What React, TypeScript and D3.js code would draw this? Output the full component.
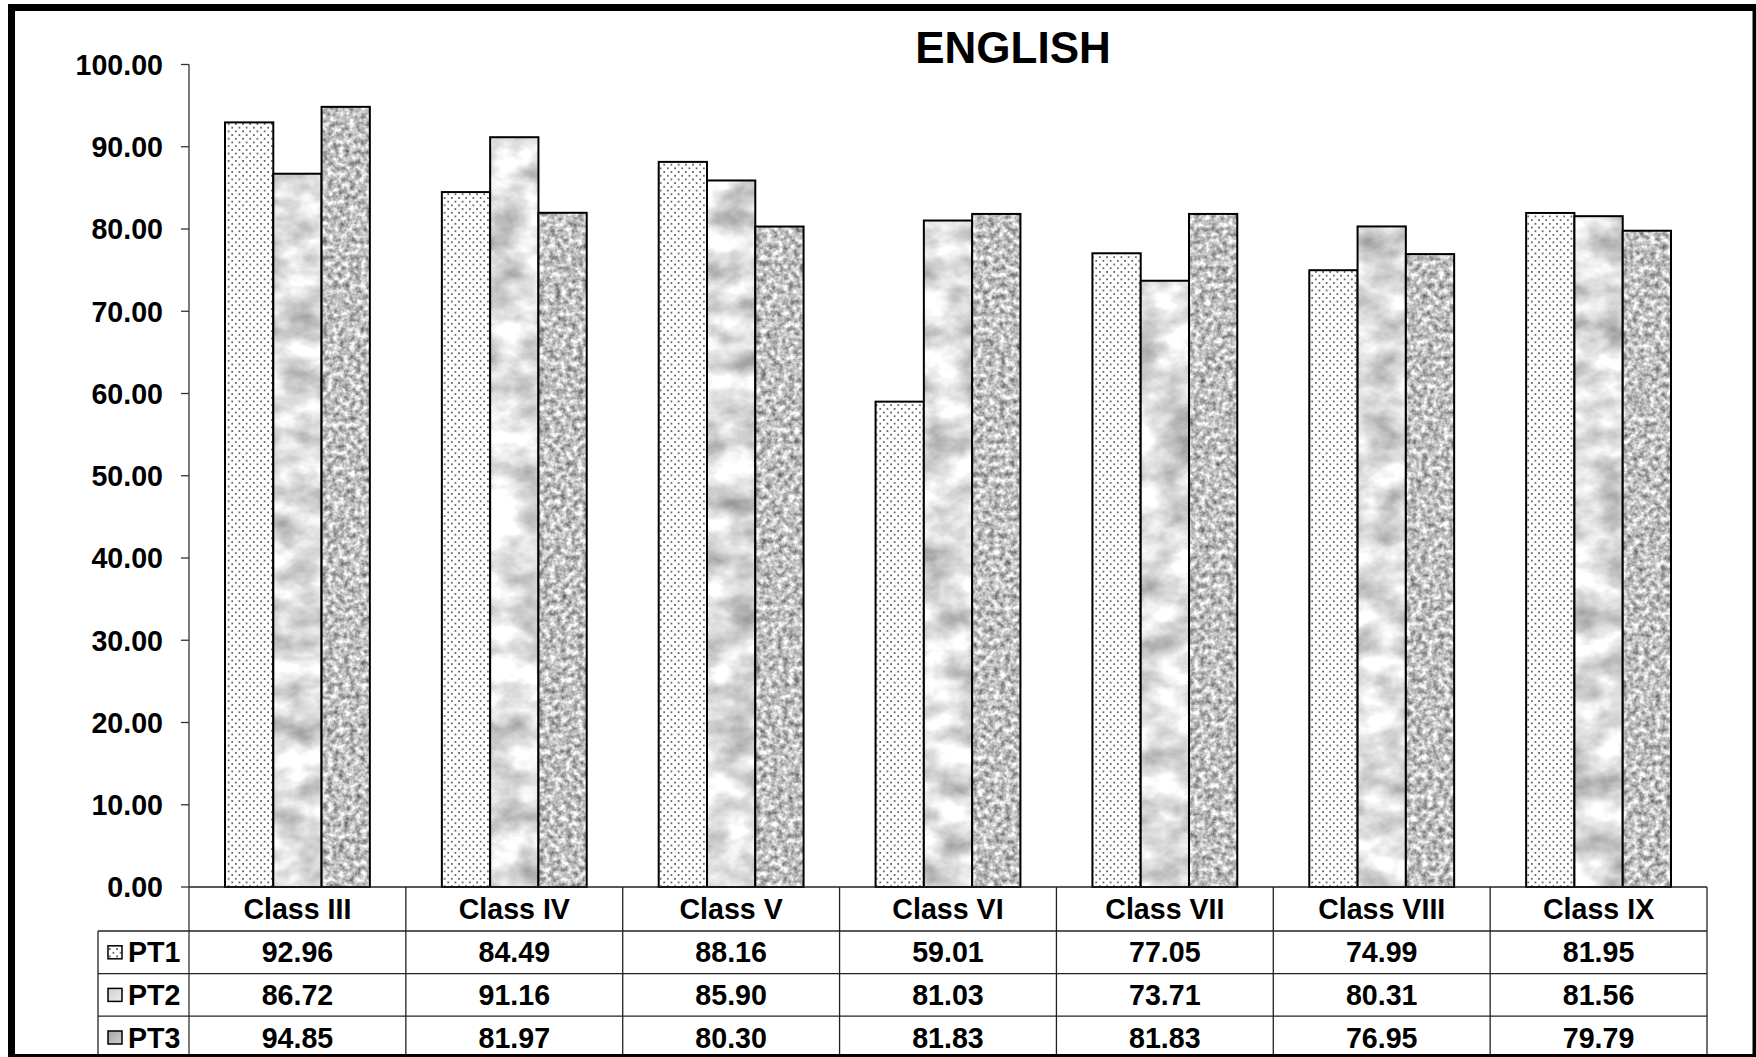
import React from "react";
import * as d3 from "d3";

const categories = ["Class III", "Class IV", "Class V", "Class VI", "Class VII", "Class VIII", "Class IX"];
const seriesNames = ["PT1", "PT2", "PT3"];
const pt1 = [92.96, 84.49, 88.16, 59.01, 77.05, 74.99, 81.95];
const pt2 = [86.72, 91.16, 85.9, 81.03, 73.71, 80.31, 81.56];
const pt3 = [94.85, 81.97, 80.3, 81.83, 81.83, 76.95, 79.79];
const yTicks = [0, 10, 20, 30, 40, 50, 60, 70, 80, 90, 100];
const title = "ENGLISH";

const W = 1756;
const H = 1057;
const FONT = "'Liberation Sans', Arial, sans-serif";
const FS = 28.6;

export default function App() {
  const series = [pt1, pt2, pt3];
  const plotLeft = 189;
  const plotRight = 1707;
  const y0 = 887;
  const y100 = 64.5;
  const x = d3.scaleBand<string>().domain(categories).range([plotLeft, plotRight]).padding(0);
  const y = d3.scaleLinear().domain([0, 100]).range([y0, y100]);
  const bw = x.bandwidth();
  const groupW = bw * 0.668;
  const inner = d3
    .scaleBand<string>()
    .domain(seriesNames)
    .range([(bw - groupW) / 2, (bw + groupW) / 2])
    .padding(0);

  const fills = ["url(#dots)", "#fff", "#fff"];
  const filters = [undefined, "url(#marble)", "url(#granite)"];
  const keyFills = ["url(#dots)", "url(#keyMarble)", "url(#keyGranite)"];

  const rowTop = 931;
  const rowH = 42.6;
  const tableLeft = 98;
  const tableBottom = 1060;

  return (
    <svg
      width={W}
      height={H}
      style={{ position: "absolute", left: 0, top: 0, background: "#fff" }}
      fontFamily={FONT}
    >
      <defs>
        <pattern id="dots" patternUnits="userSpaceOnUse" width="7.2" height="7.4">
          <rect width="7.2" height="7.4" fill="#fff" />
          <rect x="1" y="1" width="1.7" height="1.7" fill="#555" />
          <rect x="4.6" y="4.7" width="1.7" height="1.7" fill="#555" />
        </pattern>
        <linearGradient id="keyMarble" x1="0" y1="0" x2="1" y2="1">
          <stop offset="0" stopColor="#cfcfcf" />
          <stop offset="1" stopColor="#eeeeee" />
        </linearGradient>
        <linearGradient id="keyGranite" x1="0" y1="0" x2="1" y2="1">
          <stop offset="0" stopColor="#a5a5a5" />
          <stop offset="1" stopColor="#d0d0d0" />
        </linearGradient>
        <filter id="marble" x="0" y="0" width="1" height="1" colorInterpolationFilters="sRGB">
          <feTurbulence type="fractalNoise" baseFrequency="0.025 0.035" numOctaves="4" seed="11" />
          <feColorMatrix
            type="matrix"
            values="-0.65 0 0 0 1.2  -0.65 0 0 0 1.2  -0.65 0 0 0 1.2  0 0 0 0 1"
          />
          <feComposite in2="SourceGraphic" operator="in" />
        </filter>
        <filter id="granite" x="0" y="0" width="1" height="1" colorInterpolationFilters="sRGB">
          <feTurbulence type="fractalNoise" baseFrequency="0.18" numOctaves="3" seed="5" />
          <feColorMatrix
            type="matrix"
            values="0.95 0 0 0 0.28  0.95 0 0 0 0.28  0.95 0 0 0 0.28  0 0 0 0 1"
          />
          <feGaussianBlur stdDeviation="0.6" />
          <feComposite in2="SourceGraphic" operator="in" />
        </filter>
      </defs>

      <rect x={0} y={0} width={W} height={H} fill="#fff" />

      {/* title */}
      <text x={1013} y={63} textAnchor="middle" fontSize={44} fontWeight="bold" fill="#000">
        {title}
      </text>

      {/* y axis */}
      <line x1={plotLeft} x2={plotLeft} y1={y(100)} y2={tableBottom} stroke="#333" strokeWidth={1.3} />
      {yTicks.map((t) => (
        <g key={t}>
          <line x1={plotLeft - 8} x2={plotLeft} y1={y(t)} y2={y(t)} stroke="#333" strokeWidth={1.3} />
          <text
            x={163}
            y={y(t)}
            dy="0.36em"
            textAnchor="end"
            fontSize={FS}
            fontWeight="bold"
            fill="#000"
          >
            {t.toFixed(2)}
          </text>
        </g>
      ))}

      {/* bars */}
      {categories.map((c, i) => (
        <g key={c}>
          {seriesNames.map((s, k) => {
            const v = series[k][i];
            const bx = x(c)! + inner(s)!;
            const bwid = inner.bandwidth();
            return (
              <g key={s}>
                <rect x={bx} y={y(v)} width={bwid} height={y(0) - y(v)} fill={fills[k]} filter={filters[k]} />
                <rect
                  x={bx}
                  y={y(v)}
                  width={bwid}
                  height={y(0) - y(v)}
                  fill="none"
                  stroke="#000"
                  strokeWidth={2}
                />
              </g>
            );
          })}
        </g>
      ))}

      {/* table */}
      <line x1={plotLeft} x2={plotRight} y1={y0} y2={y0} stroke="#222" strokeWidth={1.5} />
      {[0, 1, 2].map((r) => (
        <line
          key={r}
          x1={tableLeft}
          x2={plotRight}
          y1={rowTop + r * rowH}
          y2={rowTop + r * rowH}
          stroke="#222"
          strokeWidth={1.3}
        />
      ))}
      <line x1={tableLeft} x2={tableLeft} y1={rowTop} y2={tableBottom} stroke="#222" strokeWidth={1.3} />
      {categories.map((c) => (
        <line
          key={c}
          x1={x(c)! + bw}
          x2={x(c)! + bw}
          y1={y0}
          y2={tableBottom}
          stroke="#222"
          strokeWidth={1.3}
        />
      ))}
      {categories.map((c) => (
        <text
          key={c}
          x={x(c)! + bw / 2}
          y={919}
          textAnchor="middle"
          fontSize={FS}
          fontWeight="bold"
          fill="#000"
        >
          {c}
        </text>
      ))}
      {seriesNames.map((s, k) => {
        const cy = rowTop + k * rowH + rowH / 2;
        return (
          <g key={s}>
            <rect
              x={108}
              y={cy - 6.5}
              width={14}
              height={13}
              fill={keyFills[k]}
              stroke="#000"
              strokeWidth={1.5}
            />
            <text x={128} y={cy + 10} fontSize={FS} fontWeight="bold" fill="#000">
              {s}
            </text>
            {categories.map((c, i) => (
              <text
                key={c}
                x={x(c)! + bw / 2}
                y={cy + 10}
                textAnchor="middle"
                fontSize={FS}
                fontWeight="bold"
                fill="#000"
              >
                {series[k][i].toFixed(2)}
              </text>
            ))}
          </g>
        );
      })}

      {/* outer border */}
      <rect x={11.5} y={7.5} width={1744.5} height={1050} fill="none" stroke="#000" strokeWidth={7} />
    </svg>
  );
}
